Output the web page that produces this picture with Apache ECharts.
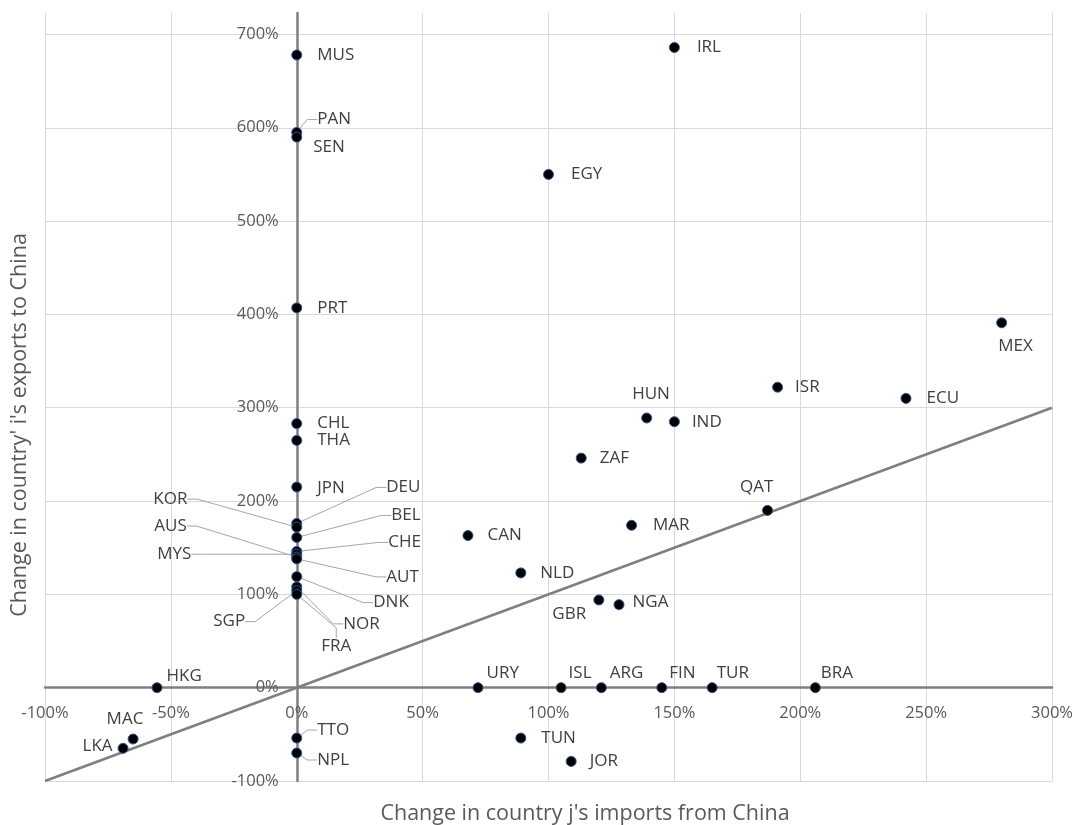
<!DOCTYPE html>
<html>
<head>
<meta charset="utf-8">
<script src="https://cdn.jsdelivr.net/npm/echarts@6/dist/echarts.min.js"></script>
<style>
html,body{margin:0;padding:0;background:#fff;}
#chart{width:1077px;height:825px;}
</style>
</head>
<body>
<div id="chart"></div>
<script>
// ---- data ----
const countries = ['MUS','PAN','SEN','PRT','CHL','THA','JPN','DEU','KOR','BEL','CHE','MYS','AUS','AUT','DNK','NOR','SGP','FRA','TTO','NPL',
  'HKG','MAC','LKA','URY','ISL','ARG','FIN','TUR','BRA','TUN','JOR','HUN','IND','ISR','ECU','ZAF','QAT','MAR','GBR','NGA','MEX','IRL','EGY','CAN','NLD'];
const importsChange = [0,0,0,0,0,0,0,0,0,0,0,0,0,0,0,0,0,0,0,0,
  -55.5,-65,-69,72,105,121,145,165,206,89,109,139,150,191,242,113,187,133,120,128,280,150,100,68,89];
const exportsChange = [678,595,590,407,283,265,215,176,172,161,146,143,140,138,119,108,104,100,-54,-70,
  0,-55,-65,0,0,0,0,0,0,-54,-79,289,285,322,310,246,190,174,94,89,391,686,550,163,123];
const xTicks = [-100,-50,0,50,100,150,200,250,300];
const yTicks = [-100,0,100,200,300,400,500,600,700];
const diagonal = [-100,300];

// ---- label placement (style only) ----
const labelShift = {
  PAN:[0,-13], SEN:[-4,10], JPN:[0,1],
  DEU:[69,-36], BEL:[74,-22], CHE:[71,-9], AUT:[69,18], DNK:[56,26], NOR:[26,37], FRA:[4,52],
  KOR:[-164,-28], AUS:[-163,-31], MYS:[-160,0], SGP:[-104,31],
  TTO:[0,-8], NPL:[0,7],
  HKG:[-11,-12], MAC:[-47,-20], LKA:[-61,-2],
  URY:[-12,-15], ISL:[-13,-15], ARG:[-12,-15], FIN:[-13,-15], TUR:[-16,-15], BRA:[-15,-15],
  JOR:[-2,0], HUN:[-35,-24], IND:[-3,0], ISR:[-3,0], ZAF:[-2,0], QAT:[-48,-23], MAR:[1,0],
  NLD:[-1,0], GBR:[-67,14], NGA:[-7,-2], CAN:[-1,0], MEX:[-24,23], EGY:[2,0], IRL:[2,0]
};
const leaders = ['PAN','TTO','NPL','DEU','BEL','CHE','AUT','DNK','NOR','FRA','KOR','AUS','MYS','SGP'];

const FONT = 'Open Sans';
const W = 1077, H = 825;
const GRID = {left:45, right:25, top:13, bottom:44};
const yMax = 723;
// place axes through the origin (pixel offsets from the grid edges)
const plotW = W - GRID.left - GRID.right, plotH = H - GRID.top - GRID.bottom;
const xAxisOffset = -plotH * (0 - yTicks[0]) / (yMax - yTicks[0]);
const yAxisOffset = -plotW * (0 - xTicks[0]) / (xTicks[xTicks.length-1] - xTicks[0]);

const chart = echarts.init(document.getElementById('chart'), null, {renderer:'canvas'});

const pts = countries.map((n,i)=>({
  name:n,
  value:[importsChange[i], exportsChange[i]],
  labelLine:{show: leaders.indexOf(n) >= 0}
}));

chart.setOption({
  animation:false,
  backgroundColor:'#ffffff',
  grid:Object.assign({containLabel:false, outerBoundsMode:'none'}, GRID),
  xAxis:{
    type:'value', min:xTicks[0], max:xTicks[xTicks.length-1], interval:50,
    position:'bottom', offset:xAxisOffset,
    axisLine:{onZero:false, lineStyle:{color:'#7f7f7f', width:2.5}},
    axisTick:{show:false},
    axisLabel:{formatter:'{value}%', color:'#595959', fontFamily:FONT, fontSize:16.5, margin:17},
    splitLine:{show:true, lineStyle:{color:'#d9d9d9', width:1}}
  },
  yAxis:{
    type:'value', min:yTicks[0], max:yMax, interval:100,
    position:'left', offset:yAxisOffset,
    axisLine:{onZero:false, lineStyle:{color:'#7f7f7f', width:2.5}},
    axisTick:{show:false},
    axisLabel:{formatter:'{value}%', color:'#595959', fontFamily:FONT, fontSize:16.5, margin:18, showMaxLabel:false},
    splitLine:{show:true, showMaxLine:false, lineStyle:{color:'#d9d9d9', width:1}}
  },
  graphic:[
    {type:'text', x:585, y:814, style:{text:"Change in country j's imports from China", fill:'#595959', font:'21.5px "Open Sans"', align:'center', verticalAlign:'middle'}},
    {type:'text', x:20, y:425, rotation:Math.PI/2, style:{text:"Change in country' i's exports to China", fill:'#595959', font:'21.5px "Open Sans"', align:'center', verticalAlign:'middle'}}
  ],
  series:[
    {
      type:'line', data:[[diagonal[0],diagonal[0]],[diagonal[1],diagonal[1]]],
      symbol:'none', lineStyle:{color:'#7f7f7f', width:2.5}, z:3, silent:true
    },
    {
      type:'scatter', data:pts, symbol:'circle', symbolSize:10, z:5,
      itemStyle:{color:'#000000', borderColor:'#2f5597', borderWidth:1, opacity:1},
      label:{show:true, position:'right', distance:15, formatter:'{b}', color:'#404040', fontFamily:FONT, fontSize:17},
      labelLine:{show:false, length2:10, lineStyle:{color:'#a6a6a6', width:1}},
      labelLayout:function(p){
        const s = labelShift[countries[p.dataIndex]] || [0,0];
        return {dx:s[0], dy:s[1]};
      }
    }
  ]
});
</script>
</body>
</html>
